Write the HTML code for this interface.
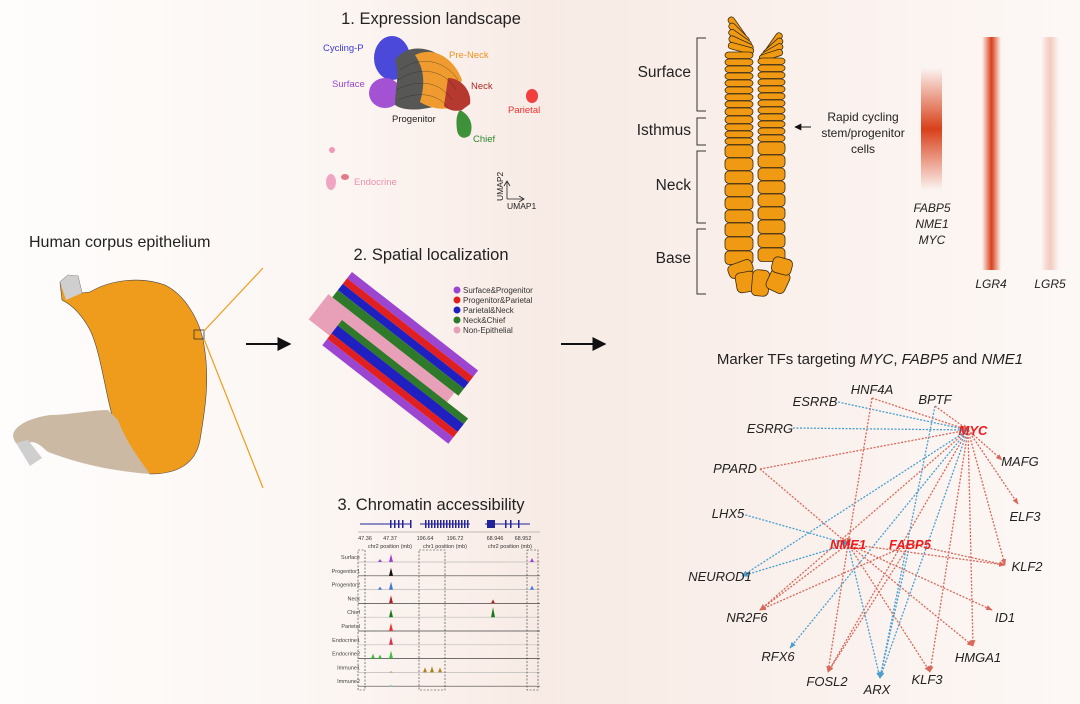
<!DOCTYPE html>
<html><head><meta charset="utf-8"><style>
html,body{margin:0;padding:0;width:1080px;height:704px;overflow:hidden;}
svg{display:block;font-family:"Liberation Sans",Arial,sans-serif;}
</style></head><body>
<svg id="s" width="1080" height="704" viewBox="0 0 1080 704" xmlns="http://www.w3.org/2000/svg">
<defs>
<linearGradient id="bg" x1="0" x2="1" y1="0" y2="0">
<stop offset="0" stop-color="#fefdfc"/><stop offset="0.3" stop-color="#fcf6f3"/><stop offset="0.5" stop-color="#f8ebe5"/><stop offset="0.65" stop-color="#f9eee9"/><stop offset="1" stop-color="#fdf8f6"/></linearGradient>
<linearGradient id="g1" x1="0" x2="0" y1="0" y2="1">
<stop offset="0" stop-color="#d9401a" stop-opacity="0"/><stop offset="0.5" stop-color="#d9401a" stop-opacity="1"/><stop offset="1" stop-color="#d9401a" stop-opacity="0"/></linearGradient>
<linearGradient id="g2" x1="0" x2="1" y1="0" y2="0">
<stop offset="0" stop-color="#d9401a" stop-opacity="0"/><stop offset="0.5" stop-color="#d9401a" stop-opacity="1"/><stop offset="1" stop-color="#d9401a" stop-opacity="0"/></linearGradient>
<linearGradient id="g3" x1="0" x2="1" y1="0" y2="0">
<stop offset="0" stop-color="#f0b8a8" stop-opacity="0"/><stop offset="0.5" stop-color="#f0c0b0" stop-opacity="0.8"/><stop offset="1" stop-color="#f0b8a8" stop-opacity="0"/></linearGradient>
<marker id="ar" viewBox="0 0 10 10" refX="9" refY="5" markerWidth="7" markerHeight="7" orient="auto"><path d="M0,0L10,5L0,10z" fill="#111"/></marker>
<marker id="mr" viewBox="0 0 10 10" refX="9" refY="5" markerWidth="5" markerHeight="5" orient="auto"><path d="M0,1L10,5L0,9z" fill="#d9685a"/></marker>
<marker id="mb" viewBox="0 0 10 10" refX="9" refY="5" markerWidth="5" markerHeight="5" orient="auto"><path d="M0,1L10,5L0,9z" fill="#4a9fd0"/></marker>
</defs>
<rect width="1080" height="704" fill="url(#bg)"/>

<!-- Left: stomach -->
<text x="29" y="247" font-size="16" fill="#222">Human corpus epithelium</text>
<path d="M62,300 L60,282 L68,275 L78,276 L82,293 L90,292 C110,280 140,276 165,285 C185,295 200,320 204,345 C210,380 205,410 200,440 C196,462 180,474 150,474 C130,462 122,440 112,415 C105,390 100,350 90,330 C82,315 72,305 62,300 Z" fill="#ef9c1c" stroke="#444" stroke-width="0.6"/>
<path d="M60,282 L68,275 L78,276 L82,293 L66,300 Z" fill="#cfcfcf"/>
<path d="M108,410 C90,410 70,415 50,415 C30,418 15,425 13,435 C14,445 20,447 28,443 C35,440 40,445 48,452 C70,460 100,470 150,474 C140,460 125,440 118,420 Z" fill="#cbb9a3"/>
<path d="M16,443 L28,440 L42,458 L30,466 Z" fill="#cfcfcf"/>
<rect x="194" y="330" width="10" height="9" fill="none" stroke="#333" stroke-width="0.8"/>
<line x1="204" y1="331" x2="263" y2="268" stroke="#ef9c1c" stroke-width="1.2"/>
<line x1="204" y1="339" x2="263" y2="488" stroke="#ef9c1c" stroke-width="1.2"/>
<line x1="246" y1="344" x2="290" y2="344" stroke="#111" stroke-width="2" marker-end="url(#ar)"/>
<line x1="561" y1="344" x2="605" y2="344" stroke="#111" stroke-width="2" marker-end="url(#ar)"/>

<!-- UMAP -->
<text x="431" y="24" font-size="16.5" text-anchor="middle" fill="#222">1. Expression landscape</text>
<g opacity="0.92">
<ellipse cx="392" cy="58" rx="18" ry="22" fill="#3b3bd8"/>
<ellipse cx="385" cy="93" rx="16" ry="15" fill="#9b45d0"/>
<path d="M395,60 C410,40 440,48 455,70 L440,105 C425,110 405,112 395,105 C395,90 400,75 395,60 Z" fill="#4a4a4a"/>
<path d="M415,55 C435,45 455,60 462,80 L450,108 C440,110 430,108 420,102 C425,85 425,70 415,55 Z" fill="#ef9420"/>
<path d="M448,78 C462,78 472,92 470,104 L462,110 C455,112 448,110 444,106 Z" fill="#b02a20"/>
<path d="M460,110 C470,115 474,125 470,135 C465,140 458,138 457,130 C456,122 456,115 460,110 Z" fill="#2e8a2a"/>
<ellipse cx="532" cy="96" rx="6" ry="7" fill="#f03030"/>
<circle cx="332" cy="150" r="3" fill="#f090b0"/>
<ellipse cx="331" cy="182" rx="5" ry="8" fill="#f0a0c0"/>
<ellipse cx="345" cy="177" rx="4" ry="3" fill="#e07080"/>
</g>
<g stroke="#222" stroke-width="0.5" fill="none" opacity="0.6">
<path d="M400,70 C420,55 445,60 458,80"/><path d="M398,80 C420,65 445,70 456,90"/><path d="M396,90 C420,78 440,82 452,100"/><path d="M398,100 C420,90 440,95 448,108"/>
</g>
<g font-size="9.5">
<text x="323" y="51" fill="#3b3bd8">Cycling-P</text>
<text x="449" y="58" fill="#ef9420">Pre-Neck</text>
<text x="332" y="87" fill="#9b45d0">Surface</text>
<text x="471" y="89" fill="#b02a20">Neck</text>
<text x="508" y="113" fill="#f03030">Parietal</text>
<text x="392" y="122" fill="#222">Progenitor</text>
<text x="473" y="142" fill="#2e8a2a">Chief</text>
<text x="354" y="185" fill="#f090b0">Endocrine</text>
</g>
<path d="M507,199 L507,182 M504,186 L507,181 L510,186 M507,199 L523,199 M519,196 L524,199 L519,202" stroke="#222" fill="none" stroke-width="0.8"/>
<text x="503" y="201" font-size="8.5" transform="rotate(-90 503 201)" fill="#222">UMAP2</text>
<text x="507" y="201" font-size="8.5" fill="#222" dy="8">UMAP1</text>

<!-- Spatial -->
<text x="431" y="260" font-size="16.5" text-anchor="middle" fill="#222">2. Spatial localization</text>
<g transform="translate(352,272) rotate(38)">
<rect x="-5" y="32" width="160" height="32" fill="#e8a0b8"/>
<rect x="0" y="0" width="160" height="8" fill="#9b45d0"/>
<rect x="0" y="8" width="160" height="7" fill="#e02020"/>
<rect x="0" y="15" width="160" height="8" fill="#2020c0"/>
<rect x="0" y="23" width="160" height="9" fill="#2e7a2a"/>
</g>
<g transform="translate(342,320) rotate(38)">
<rect x="0" y="0" width="160" height="7" fill="#2e7a2a"/>
<rect x="0" y="7" width="160" height="10" fill="#2020c0"/>
<rect x="0" y="17" width="160" height="7" fill="#e02020"/>
<rect x="0" y="24" width="160" height="8" fill="#9b45d0"/>
</g>
<g font-size="8" fill="#333">
<circle cx="457" cy="290" r="3.5" fill="#9b45d0"/><text x="463" y="293">Surface&amp;Progenitor</text>
<circle cx="457" cy="300" r="3.5" fill="#e02020"/><text x="463" y="303">Progenitor&amp;Parietal</text>
<circle cx="457" cy="310" r="3.5" fill="#2020c0"/><text x="463" y="313">Parietal&amp;Neck</text>
<circle cx="457" cy="320" r="3.5" fill="#2e7a2a"/><text x="463" y="323">Neck&amp;Chief</text>
<circle cx="457" cy="330" r="3.5" fill="#e8a0b8"/><text x="463" y="333">Non-Epithelial</text>
</g>

<!-- Chromatin -->
<text x="431" y="510" font-size="16.5" text-anchor="middle" fill="#222">3. Chromatin accessibility</text>
<g id="chrom"></g>

<!-- Crypt -->
<g id="crypt"></g>
<g stroke="#333" fill="none" stroke-width="1">
<path d="M706,38 H697 V111 H706"/><path d="M706,118 H697 V145 H706"/><path d="M706,151 H697 V223 H706"/><path d="M706,229 H697 V294 H706"/>
</g>
<g font-size="15.5" fill="#222" text-anchor="end">
<text x="691" y="77">Surface</text><text x="691" y="135">Isthmus</text><text x="691" y="190">Neck</text><text x="691" y="263">Base</text>
</g>
<line x1="811" y1="127" x2="795" y2="127" stroke="#111" stroke-width="1" marker-end="url(#ar)"/>
<g font-size="12" fill="#222" text-anchor="middle">
<text x="863" y="121">Rapid cycling</text><text x="863" y="137">stem/progenitor</text><text x="863" y="153">cells</text>
</g>
<rect x="921" y="68" width="21" height="122" fill="url(#g1)"/>
<g font-size="12" font-style="italic" fill="#222" text-anchor="middle">
<text x="932" y="212">FABP5</text><text x="932" y="228">NME1</text><text x="932" y="244">MYC</text>
<text x="991" y="288">LGR4</text><text x="1050" y="288">LGR5</text>
</g>
<rect x="982" y="37" width="19" height="233" fill="url(#g2)"/>
<rect x="1041" y="37" width="18" height="233" fill="url(#g3)"/>

<!-- Network -->
<text x="870" y="364" font-size="15" text-anchor="middle" fill="#222">Marker TFs targeting <tspan font-style="italic">MYC</tspan>, <tspan font-style="italic">FABP5</tspan> and <tspan font-style="italic">NME1</tspan></text>
<g id="edges"></g>
<g font-size="13" font-style="italic" fill="#222" text-anchor="middle" id="labels">
<text x="872" y="394">HNF4A</text><text x="935" y="404">BPTF</text><text x="815" y="406">ESRRB</text><text x="770" y="433">ESRRG</text>
<text x="1020" y="466">MAFG</text><text x="735" y="473">PPARD</text><text x="1025" y="521">ELF3</text><text x="728" y="518">LHX5</text>
<text x="1027" y="571">KLF2</text><text x="720" y="581">NEUROD1</text><text x="747" y="622">NR2F6</text><text x="1005" y="622">ID1</text>
<text x="778" y="661">RFX6</text><text x="978" y="662">HMGA1</text><text x="827" y="686">FOSL2</text><text x="877" y="694">ARX</text><text x="927" y="684">KLF3</text>
<text x="973" y="435" fill="#ee1c1c" font-weight="bold">MYC</text>
<text x="848" y="549" fill="#ee1c1c" font-weight="bold">NME1</text>
<text x="910" y="549" fill="#ee1c1c" font-weight="bold">FABP5</text>
</g>
</svg>
<script>
var NS="http://www.w3.org/2000/svg";
function el(p,t,a){var e=document.createElementNS(NS,t);for(var k in a)e.setAttribute(k,a[k]);p.appendChild(e);return e;}
var c=document.getElementById('crypt');
var cs={fill:"#ef9a12",stroke:"#3a2a10","stroke-width":"0.8"};
function cell(x,y,w,h,r,rot){var a=Object.assign({x:x,y:y,width:w,height:h,rx:r,ry:r},cs);if(rot)a.transform="rotate("+rot+" "+(x+w/2)+" "+(y+h/2)+")";el(c,'rect',a);}
// fanned top cells
var lf=[[724,25,55],[726,30,45],[727,35,35],[728,40,25],[728,45,15]];
lf.forEach(function(f){cell(f[0],f[1],26,6.5,3,f[2]);});
var rf=[[762,40,-55],[761,44,-42],[760,48,-30],[759,52,-18]];
rf.forEach(function(f){cell(f[0],f[1],24,6.5,3,f[2]);});
var y=52;var hs=[7,7,7,7,7,7,7,7,8,8,7,7,7,13,13,13,13,13,13,14,14,14];
for(var i=0;i<hs.length;i++){cell(725,y,28,hs[i]-0.5,4);y+=hs[i];}
y=58;var hs2=[7,7,7,7,7,7,7,7,7,7,7,7,13,13,13,13,13,13,14,14,14];
for(var i=0;i<hs2.length;i++){cell(758,y,27,hs2[i]-0.5,4);y+=hs2[i];}
cell(728,262,25,14,5,-20);cell(736,272,20,20,5,-10);cell(752,270,17,26,5,5);cell(768,270,20,22,5,25);cell(772,258,20,16,5,15);
// chromatin
var g=document.getElementById('chrom');
var names=["Surface","Progenitor1","Progenitor2","Neck","Chief","Parietal","Endocrine1","Endocrine2","Immune1","Immune2"];
var cols=["#a040d0","#111","#3a7ad8","#b02020","#1a7a1a","#f03030","#e03050","#40c040","#b08020","#40a0b0"];
el(g,'path',{d:"M360,524 H410 M420,524 H470 M485,524 H530",stroke:"#22229a","stroke-width":"1",fill:"none"});
[390,394,398,402,410,425,428,431,434,437,440,443,446,449,452,455,458,461,464,467,505,510,518].forEach(function(x){el(g,'rect',{x:x,y:520,width:1.5,height:8,fill:"#22229a"});});
el(g,'rect',{x:487,y:520,width:8,height:8,fill:"#22229a"});
el(g,'line',{x1:358,y1:532,x2:540,y2:532,stroke:"#888","stroke-width":"0.5"});
var tl=[[365,"47.36"],[390,"47.37"],[425,"196.64"],[455,"196.72"],[495,"68.946"],[523,"68.952"]];
tl.forEach(function(t){var e=el(g,'text',{x:t[0],y:540,"font-size":"5.5",fill:"#333","text-anchor":"middle"});e.textContent=t[1];});
[[390,"chr2 position (mb)"],[445,"chr1 position (mb)"],[510,"chr2 position (mb)"]].forEach(function(t){var e=el(g,'text',{x:t[0],y:548,"font-size":"5.5",fill:"#333","text-anchor":"middle"});e.textContent=t[1];});
for(var i=0;i<10;i++){var yy=562+i*13.8;
var e=el(g,'text',{x:360,y:yy-3,"font-size":"5.5",fill:"#444","text-anchor":"end"});e.textContent=names[i];
el(g,'line',{x1:358,y1:yy,x2:540,y2:yy,stroke:(i%2?"#444":"#bbb"),"stroke-width":"0.7"});
var pk=[[391,i<8?8:1]];if(i==4)pk.push([493,10]);if(i==7){pk.push([373,5],[380,4]);}if(i==8)pk.push([425,5],[432,6],[440,5]);if(i==3)pk.push([493,4]);if(i==0||i==2)pk.push([532,4],[380,3]);
pk.forEach(function(p){el(g,'path',{d:"M"+(p[0]-2)+","+yy+" L"+p[0]+","+(yy-p[1])+" L"+(p[0]+2)+","+yy+"Z",fill:cols[i]});});}
[[358,7],[419,26],[527,11]].forEach(function(b){el(g,'rect',{x:b[0],y:550,width:b[1],height:140,fill:"none",stroke:"#333","stroke-width":"0.6","stroke-dasharray":"2,1.5"});});
// network
var P={MYC:[968,430],NME1:[848,544],FABP5:[910,544],HNF4A:[872,398],BPTF:[935,406],ESRRB:[838,402],ESRRG:[793,428],MAFG:[1002,460],PPARD:[760,469],ELF3:[1018,504],LHX5:[742,514],KLF2:[1005,565],NEUROD1:[742,576],NR2F6:[760,610],ID1:[992,610],RFX6:[790,648],HMGA1:[973,646],FOSL2:[828,672],ARX:[880,678],KLF3:[930,672]};
var E=[["HNF4A","MYC","r"],["PPARD","MYC","r"],["ESRRB","MYC","b"],["ESRRG","MYC","b"],["MYC","MAFG","r"],["MYC","ELF3","r"],["MYC","KLF2","r"],["MYC","HMGA1","r"],["MYC","KLF3","r"],["MYC","NR2F6","r"],["MYC","FOSL2","r"],["MYC","NEUROD1","b"],["MYC","ARX","b"],["MYC","RFX6","b"],["BPTF","ARX","b"],["HNF4A","NME1","r"],["PPARD","NME1","r"],["LHX5","NME1","b"],["NME1","NEUROD1","b"],["NME1","KLF2","r"],["FABP5","KLF2","r"],["NME1","ID1","r"],["NME1","HMGA1","r"],["NME1","KLF3","r"],["NME1","FOSL2","r"],["NME1","NR2F6","r"],["NME1","ARX","b"],["FABP5","FOSL2","r"],["FABP5","ARX","b"],["FABP5","NR2F6","r"],["BPTF","MYC","r"]];
var eg=document.getElementById('edges');
E.forEach(function(d){var a=P[d[0]],b=P[d[1]];var col=d[2]=="r"?"#d9685a":"#4a9fd0";
el(eg,'line',{x1:a[0],y1:a[1],x2:b[0],y2:b[1],stroke:col,"stroke-width":"1.3","stroke-dasharray":"2,1.5","marker-end":"url(#m"+d[2]+")"});});
</script>
</body></html>
